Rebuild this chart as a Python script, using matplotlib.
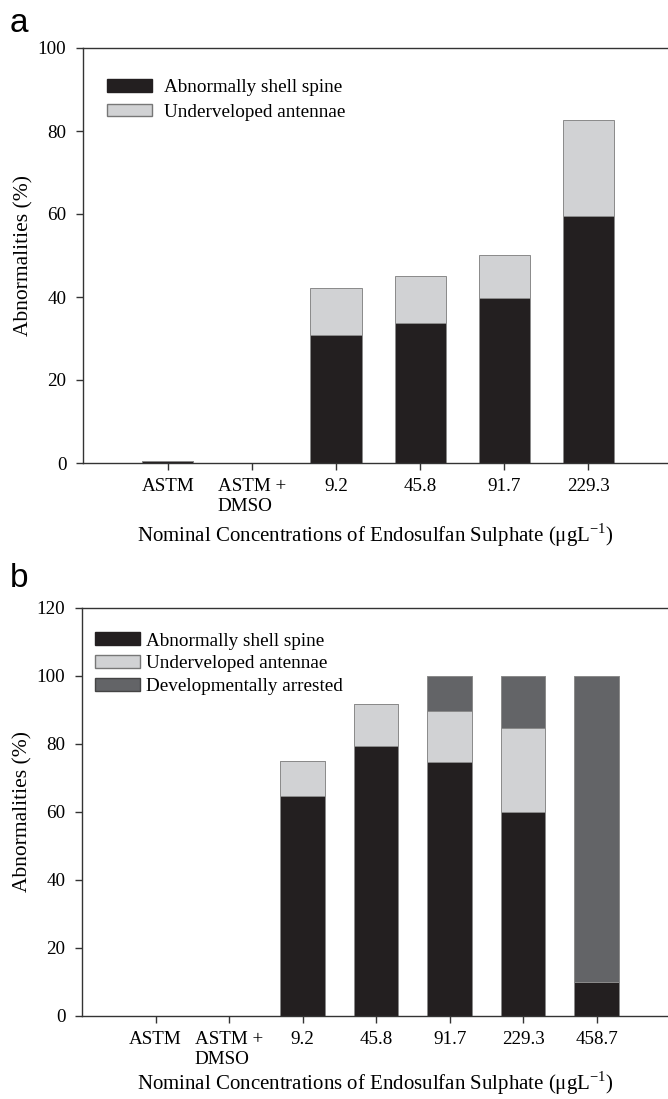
import numpy as np
import matplotlib
matplotlib.use('Agg')
import matplotlib.pyplot as plt
from matplotlib.patches import Patch

plt.rcParams['font.family'] = ['Liberation Serif', 'DejaVu Serif']
plt.rcParams['mathtext.fontset'] = 'custom'
plt.rcParams['mathtext.rm'] = 'Liberation Serif'

# panel a
cats_a = ['ASTM', 'ASTM +\nDMSO', '9.2', '45.8', '91.7', '229.3']
spine_a = [0.6, 0, 30.9, 33.7, 39.8, 59.5]
antenna_a = [0, 0, 11.3, 11.4, 10.2, 23.2]

# panel b
cats_b = ['ASTM', 'ASTM +\nDMSO', '9.2', '45.8', '91.7', '229.3', '458.7']
spine_b = [0, 0, 64.8, 79.4, 74.8, 60.0, 10.0]
antenna_b = [0, 0, 10.3, 12.3, 14.9, 24.7, 0]
arrest_b = [0, 0, 0, 0, 10.3, 15.3, 90.0]

c_black = '#231f20'
c_light = '#d1d2d4'
c_dark = '#636467'
edge = '#8a8a8a'
xlab = 'Nominal Concentrations of Endosulfan Sulphate (μgL$^{\\mathregular{-1}}$)'

fig = plt.figure(figsize=(6.68, 10.99), dpi=100)
W, H = 668, 1099

def make_ax(left, top, bottom):
    return fig.add_axes([left / W, 1 - bottom / H, 1 - left / W, (bottom - top) / H])

def style(ax, cats, ymax, xlim, xpad):
    x = np.arange(len(cats))
    ax.set_xticks(x)
    ax.set_xticklabels(cats)
    for lab in ax.get_xticklabels():
        lab.set_multialignment('left')
    ax.set_xlim(*xlim)
    ax.set_ylim(0, ymax)
    ax.set_yticks(np.arange(0, ymax + 1, 20))
    ax.spines['right'].set_visible(False)
    for s in ax.spines.values():
        s.set_linewidth(1.0)
        s.set_color('#333333')
    ax.tick_params(axis='both', labelsize=13.7, length=5, width=1.0, color='#333333', pad=6)
    ax.tick_params(axis='y', pad=7)
    ax.set_ylabel('Abnormalities (%)', fontsize=15.5, labelpad=3)
    ax.set_xlabel(xlab, fontsize=15, labelpad=xpad)

# ---- a ----
ax1 = make_ax(83, 48, 463)
x = np.arange(len(cats_a))
w = 0.607
ax1.bar(x, spine_a, w, color=c_black, edgecolor=edge, linewidth=0.7)
ax1.bar(x, antenna_a, w, bottom=spine_a, color=c_light, edgecolor=edge, linewidth=0.7)
style(ax1, cats_a, 100, (-1.01, 5.95), 5)
h1 = [Patch(facecolor=c_black, edgecolor=c_black, label='Abnormally shell spine'),
      Patch(facecolor=c_light, edgecolor='#777777', label='Underveloped antennae')]
ax1.legend(handles=h1, loc='upper left', bbox_to_anchor=(0.041, 0.925), frameon=False,
           fontsize=13.8, handlelength=2.35, handleheight=0.65, handletextpad=0.6,
           labelspacing=0.38, borderpad=0, borderaxespad=0)

# ---- b ----
ax2 = make_ax(82, 608, 1016)
x = np.arange(len(cats_b))
bot2 = np.array(spine_b) + np.array(antenna_b)
ax2.bar(x, spine_b, w, color=c_black, edgecolor=edge, linewidth=0.7)
ax2.bar(x, antenna_b, w, bottom=spine_b, color=c_light, edgecolor=edge, linewidth=0.7)
ax2.bar(x, arrest_b, w, bottom=bot2, color=c_dark, edgecolor=edge, linewidth=0.7)
style(ax2, cats_b, 120, (-1.0, 6.97), 1)
h2 = [Patch(facecolor=c_black, edgecolor=c_black, label='Abnormally shell spine'),
      Patch(facecolor=c_light, edgecolor='#777777', label='Underveloped antennae'),
      Patch(facecolor=c_dark, edgecolor='#444444', label='Developmentally arrested')]
ax2.legend(handles=h2, loc='upper left', bbox_to_anchor=(0.022, 0.94), frameon=False,
           fontsize=13.8, handlelength=2.35, handleheight=0.65, handletextpad=0.3,
           labelspacing=0.3, borderpad=0, borderaxespad=0)

fig.text(10 / W, 1 - 32 / H, 'a', fontsize=24, family='Liberation Sans', va='baseline', ha='left')
fig.text(10 / W, 1 - 587 / H, 'b', fontsize=24, family='Liberation Sans', va='baseline', ha='left')

fig.savefig('out.png', dpi=100)
